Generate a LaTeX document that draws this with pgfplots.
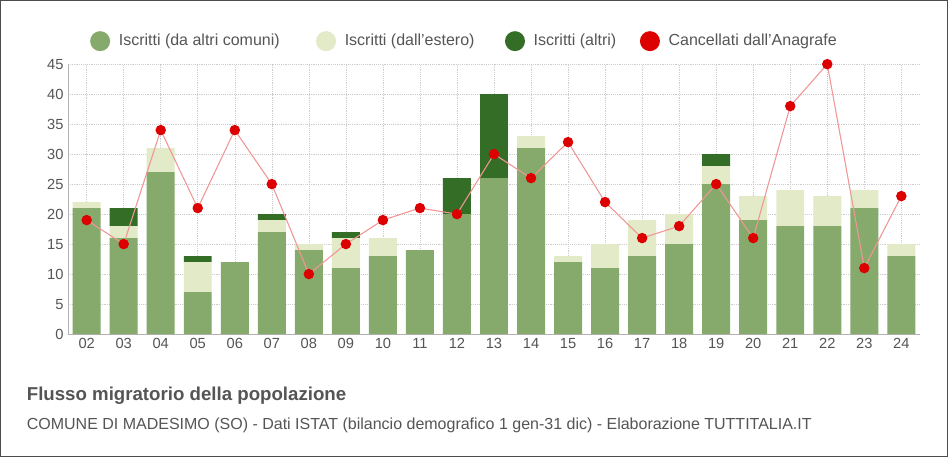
\documentclass[border=0pt]{standalone}
\usepackage{pgfplots}
\pgfplotsset{compat=1.18}
\usepackage{fontspec}
\setmainfont{Liberation Sans}
\definecolor{gA}{RGB}{134,170,107}
\definecolor{gB}{RGB}{226,234,200}
\definecolor{gC}{RGB}{52,109,38}
\definecolor{rd}{RGB}{220,0,0}
\definecolor{rl}{RGB}{240,150,150}
\definecolor{tx}{RGB}{85,85,85}
\pgfplotstableread{
x a b c r
0 21 1 0 19
1 16 2 3 15
2 27 4 0 34
3 7 5 1 21
4 12 0 0 34
5 17 2 1 25
6 14 1 0 10
7 11 5 1 15
8 13 3 0 19
9 14 0 0 21
10 20 0 6 20
11 26 0 14 30
12 31 2 0 26
13 12 1 0 32
14 11 4 0 22
15 13 6 0 16
16 15 5 0 18
17 25 3 2 25
18 19 4 0 16
19 18 6 0 38
20 18 5 0 45
21 21 3 0 11
22 13 2 0 23
}\data
\begin{document}
\begin{tikzpicture}[x=0.75pt,y=0.75pt]
\draw[black!70,line width=1pt,fill=white] (0.5,0.5) rectangle (947.5,456.5);
\pgfplotsset{every axis/.style={at={(51pt,92.25pt)},anchor=south west,scale only axis,width=639pt,height=202.5pt,
 xmin=-0.5,xmax=22.5,ymin=0,ymax=45}}
\begin{axis}[ybar stacked,bar width=21pt,
 xtick={0,...,22},xticklabels={02,03,04,05,06,07,08,09,10,11,12,13,14,15,16,17,18,19,20,21,22,23,24},
 ytick={0,5,...,45},grid=major,grid style={densely dotted,black!20},
 axis x line*=bottom,axis y line*=left,axis line style={black!30},
 tick style={draw=none},tick label style={font=\fontsize{11}{11}\selectfont,text=tx},
 /pgf/number format/assume math mode=true]
\addplot[fill=gA,draw=none] table[x=x,y=a]{\data};
\addplot[fill=gB,draw=none] table[x=x,y=b]{\data};
\addplot[fill=gC,draw=none] table[x=x,y=c]{\data};
\end{axis}
\begin{axis}[axis lines=none,ticks=none]
\addplot[rl,line width=0.8pt,mark=*,mark options={rd,draw=none,mark size=3.5pt}] table[x=x,y=r]{\data};
\end{axis}
\begin{scope}[font=\fontsize{12}{12}\selectfont,text=tx]
\fill[gA] (100,416) circle (10); \node[anchor=west] at (114,416) {Iscritti (da altri comuni)};
\fill[gB] (326,416) circle (10); \node[anchor=west] at (340,416) {Iscritti (dall'estero)};
\fill[gC] (515,416) circle (10); \node[anchor=west] at (529,416) {Iscritti (altri)};
\fill[rd] (650,416) circle (10); \node[anchor=west] at (664,416) {Cancellati dall'Anagrafe};
\end{scope}
\node[anchor=west,text=tx,font=\bfseries\fontsize{14}{14}\selectfont] at (22,61) {Flusso migratorio della popolazione};
\node[anchor=west,text=tx,font=\fontsize{12}{12}\selectfont] at (22,32) {COMUNE DI MADESIMO (SO) - Dati ISTAT (bilancio demografico 1 gen-31 dic) - Elaborazione TUTTITALIA.IT};
\end{tikzpicture}
\end{document}
